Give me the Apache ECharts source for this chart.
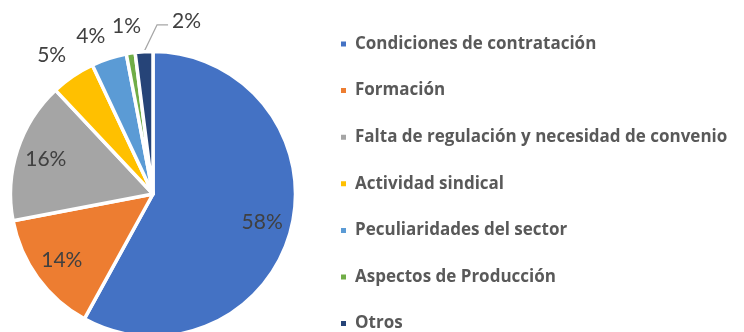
<!DOCTYPE html>
<html>
<head>
<meta charset="utf-8">
<script src="https://cdn.jsdelivr.net/npm/echarts@6/dist/echarts.min.js"></script>
<style>
  html, body { margin: 0; padding: 0; background: #ffffff; }
  #chart { width: 744px; height: 332px; }
</style>
</head>
<body>
<div id="chart"></div>
<script>
// Motivos señalados (porcentaje de respuestas)
const categories = [
  'Condiciones de contratación',
  'Formación',
  'Falta de regulación y necesidad de convenio',
  'Actividad sindical',
  'Peculiaridades del sector',
  'Aspectos de Producción',
  'Otros'
];
const values = [58, 14, 16, 5, 4, 1, 2];
const colors = ['#4472C4', '#ED7D31', '#A5A5A5', '#FFC000', '#5B9BD5', '#70AD47', '#264478'];

// Where each slice's label goes: inside the pie, just outside it, or on a leader line
const labelPlacement = ['inside', 'inside', 'inside', 'ring', 'ring', 'ring', 'leader'];

const CENTER = [153, 194];
const R = 142.5;
const RING_GAP = 12;        // distance between the pie edge and an outside label
const labelFont = { fontFamily: 'Lato', fontSize: 21, color: '#404040', overflow: 'none' };

const chart = echarts.init(document.getElementById('chart'), null, { renderer: 'canvas' });

// Outside labels are set along the slice's mid-angle direction, starting from the
// edge point the pie layout computes for the label line. Labels well to one side
// hang off their inner corner; labels near the top are centred over the slice.
function placeLabel(params) {
  const kind = labelPlacement[params.dataIndex];
  const pts = params.labelLinePoints;
  if (!pts || kind === 'inside') return {};
  const p0 = pts[0];
  if (kind === 'ring') {
    const dx = (p0[0] - CENTER[0]) / R;
    const dy = (p0[1] - CENTER[1]) / R;
    const side = Math.abs(dx) >= 0.25;
    const gap = side ? RING_GAP : R * 0.19;
    return {
      x: p0[0] + dx * gap,
      y: p0[1] + dy * gap,
      align: side ? (dx < 0 ? 'right' : 'left') : 'center',
      verticalAlign: side ? (dy < 0 ? 'bottom' : 'top') : 'middle'
    };
  }
  return {
    x: p0[0] + 28,
    y: p0[1] - 31,
    align: 'left',
    verticalAlign: 'middle',
    labelLinePoints: [
      [p0[0], p0[1]],
      [p0[0] + 13, p0[1] - 27],
      [p0[0] + 24, p0[1] - 27]
    ]
  };
}

chart.setOption({
  backgroundColor: '#ffffff',
  color: colors,
  animation: false,
  legend: {
    orient: 'vertical',
    left: 339,
    top: 34,
    height: 320,
    padding: 0,
    itemWidth: 7,
    itemHeight: 7,
    itemGap: 26.6,
    icon: 'rect',
    selectedMode: false,
    data: categories,
    textStyle: {
      fontFamily: 'Open Sans',
      fontWeight: 'bold',
      fontSize: 17,
      lineHeight: 20,
      color: '#595959',
      padding: [0, 0, 0, 3]
    }
  },
  series: [
    {
      type: 'pie',
      center: CENTER,
      radius: [0, R],
      startAngle: 90,
      clockwise: true,
      animation: false,
      avoidLabelOverlap: false,
      itemStyle: { borderColor: '#ffffff', borderWidth: 3.5 },
      emphasis: { disabled: true },
      label: Object.assign({ position: 'outside', alignTo: 'none', formatter: '{c}%' }, labelFont),
      labelLine: {
        show: true,
        length: 26,
        length2: 10,
        smooth: false,
        lineStyle: { color: '#A6A6A6', width: 1.3 }
      },
      labelLayout: placeLabel,
      data: categories.map((name, i) => ({
        name: name,
        value: values[i],
        label: { show: labelPlacement[i] !== 'inside' },
        labelLine: {
          show: labelPlacement[i] !== 'inside',
          lineStyle: { opacity: labelPlacement[i] === 'leader' ? 1 : 0 }
        }
      }))
    },
    {
      // label carrier for the large slices: a transparent ring whose mid-radius
      // puts the percentages toward the outer part of each slice
      type: 'pie',
      center: CENTER,
      radius: [R * 0.54, R],
      startAngle: 90,
      clockwise: true,
      silent: true,
      animation: false,
      itemStyle: { color: 'rgba(0,0,0,0)', borderWidth: 0 },
      emphasis: { disabled: true },
      labelLine: { show: false },
      label: Object.assign({ position: 'inside', formatter: '{c}%' }, labelFont),
      data: categories.map((name, i) => ({
        name: name,
        value: values[i],
        label: { show: labelPlacement[i] === 'inside' }
      }))
    }
  ]
});
</script>
</body>
</html>
